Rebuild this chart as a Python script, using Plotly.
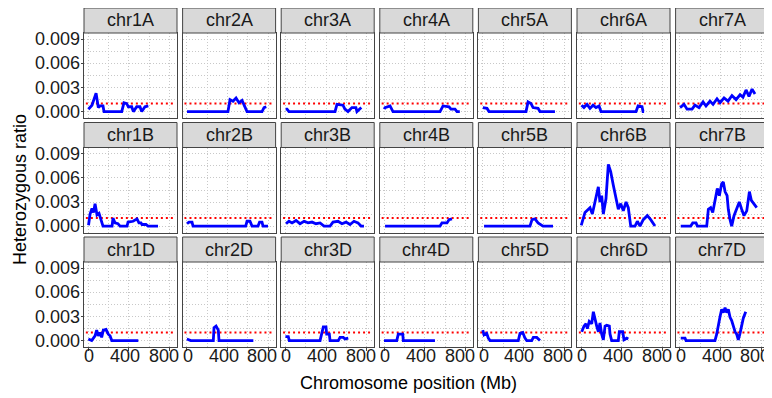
import plotly.graph_objects as go

# ---------------- data (Mb, heterozygous ratio) ----------------
chrom_names = ["chr1A", "chr2A", "chr3A", "chr4A", "chr5A", "chr6A", "chr7A",
               "chr1B", "chr2B", "chr3B", "chr4B", "chr5B", "chr6B", "chr7B",
               "chr1D", "chr2D", "chr3D", "chr4D", "chr5D", "chr6D", "chr7D"]

chr1A_pos = [1, 37, 77, 99, 116, 145, 155, 329, 351, 378, 394, 427, 443, 476, 508, 525, 557, 590]
chr1A_het = [.0003, .0008, .0023, .0005, .0007, .0007, 0, 0, .0011, .0010, .0006, .0006, 0, .0006, .0006, 0, .0006, .0007]
chr2A_pos = [2, 404, 424, 453, 483, 512, 542, 571, 591, 738, 758, 780]
chr2A_het = [0, 0, .0015, .0013, .0017, .0011, .0014, .0005, 0, 0, .0005, .0006]
chr3A_pos = [2, 16, 35, 487, 506, 565, 584, 614, 653, 692, 702, 731, 745]
chr3A_het = [.0003, .0003, 0, 0, .0009, .0008, .0003, 0, .0005, .0005, 0, .0004, .0005]
chr4A_pos = [2, 10, 59, 88, 550, 579, 638, 657, 697, 716, 744]
chr4A_het = [.0003, .0005, .0007, 0, 0, .0007, .0006, .0003, .0003, 0, 0]
chr5A_pos = [2, 43, 63, 426, 446, 475, 495, 544, 563, 710]
chr5A_het = [.0005, .0004, 0, 0, .0012, .0010, .0005, .0004, 0, 0]
chr6A_pos = [3, 27, 57, 86, 116, 145, 175, 194, 538, 558, 597, 607, 617]
chr6A_het = [.0008, .0005, .0009, .0004, .0008, .0005, .0007, 0, 0, .0007, .0006, 0, 0]
chr7A_pos = [2, 41, 71, 120, 149, 188, 228, 257, 296, 326, 365, 395, 434, 473, 512, 552, 591, 620, 650, 679, 709, 738]
chr7A_het = [.0005, .0009, .0003, .0003, .0008, .0005, .0012, .0007, .0013, .0009, .0016, .0011, .0017, .0013,
             .0020, .0015, .0021, .0018, .0027, .0019, .0028, .0022]

chr1B_pos = [3, 18, 37, 52, 67, 86, 106, 126, 145, 234, 243, 263, 292, 312, 381, 391, 440, 479, 498, 518, 528, 567, 587, 685]
chr1B_het = [.0001, .0015, .0022, .0017, .0028, .0014, .0016, .0008, 0, 0, .0010, .0004, .0003, 0, 0, .0005, .0006,
             .0009, .0004, .0004, .0002, .0002, 0, 0]
chr2B_pos = [2, 22, 51, 61, 578, 591, 620, 640, 699, 714, 738, 748, 797]
chr2B_het = [.0003, .0005, .0005, 0, 0, .0006, .0006, 0, 0, .0005, .0005, 0, 0]
chr3B_pos = [6, 35, 65, 104, 143, 183, 222, 261, 300, 340, 379, 438, 467, 516, 555, 595, 634, 673, 712, 742, 771]
chr3B_het = [.0003, .0006, .0004, .0007, .0003, .0006, .0004, .0005, .0003, .0004, 0, 0, .0005, .0006, .0003,
             .0005, .0002, .0006, .0004, 0, 0]
chr4B_pos = [10, 550, 569, 618, 638, 667]
chr4B_het = [0, 0, .0004, .0004, .0008, .0009]
chr5B_pos = [14, 465, 485, 514, 544, 573, 593, 691]
chr5B_het = [0, 0, .0008, .0009, .0004, .0002, 0, 0]
chr6B_pos = [0, 37, 86, 109, 135, 168, 184, 201, 217, 243, 266, 289, 315, 342, 364, 388, 413, 440, 462, 486,
             528, 551, 577, 609, 649, 682, 724]
chr6B_het = [.0001, .0017, .0023, .0015, .0030, .0049, .0030, .0038, .0015, .0034, .0077, .0068, .0051, .0034,
             .0021, .0028, .0019, .0030, .0023, 0, 0, .0006, 0, .0008, .0013, .0008, 0]
chr7B_pos = [9, 107, 127, 159, 172, 264, 280, 303, 323, 345, 368, 388, 411, 427, 444, 464, 476, 493, 509, 532,
             558, 584, 607, 630, 657, 683, 702, 728, 755]
chr7B_het = [0, 0, .0004, .0004, 0, 0, .0021, .0023, .0017, .0034, .0047, .0038, .0053, .0055, .0043, .0038,
             .0021, .0008, 0, .0013, .0021, .0030, .0021, .0013, .0019, .0043, .0032, .0028, .0023]

chr1D_pos = [1, 34, 67, 83, 99, 116, 132, 148, 175, 197, 214, 231, 492]
chr1D_het = [.0002, 0, .0006, .0013, .0006, .0010, .0004, .0013, .0014, .0008, .0006, 0, 0]
chr2D_pos = [0, 38, 260, 267, 287, 309, 316, 653]
chr2D_het = [.0002, 0, 0, .0016, .0018, .0013, 0, 0]
chr3D_pos = [0, 28, 38, 340, 355, 372, 398, 405, 431, 438, 519, 536, 568, 585, 617]
chr3D_het = [.0005, .0005, 0, 0, .0008, .0017, .0017, .0008, .0008, 0, 0, .0004, .0004, .0002, .0003]
chr4D_pos = [0, 125, 140, 184, 189, 500]
chr4D_het = [0, 0, .0008, .0008, 0, 0]
chr5D_pos = [1, 14, 40, 56, 73, 350, 367, 394, 416, 433, 482, 498, 531, 563]
chr5D_het = [.0013, .0007, .0009, .0003, 0, 0, .0009, .0010, .0003, 0, 0, .0004, .0004, 0]
chr6D_pos = [5, 27, 47, 60, 79, 103, 119, 135, 152, 168, 184, 201, 217, 234, 250, 276, 283, 299, 364, 374,
             407, 420, 447, 462]
chr6D_het = [.0011, .0018, .0021, .0015, .0024, .0021, .0036, .0026, .0018, .0011, .0022, .0008, .0001, .0018,
             .0019, .0018, .0008, 0, 0, .0011, .0011, .0001, .0003, .0002]
chr7D_pos = [9, 51, 61, 345, 362, 378, 395, 411, 427, 444, 460, 476, 493, 509, 525, 542, 558, 574, 591, 607, 623, 647]
chr7D_het = [.0003, .0003, 0, 0, .0008, .0020, .0030, .0039, .0035, .0041, .0035, .0039, .0029, .0025, .0018,
             .0011, .0008, .0001, .0009, .0021, .0028, .0036]

positions = [chr1A_pos, chr2A_pos, chr3A_pos, chr4A_pos, chr5A_pos, chr6A_pos, chr7A_pos,
             chr1B_pos, chr2B_pos, chr3B_pos, chr4B_pos, chr5B_pos, chr6B_pos, chr7B_pos,
             chr1D_pos, chr2D_pos, chr3D_pos, chr4D_pos, chr5D_pos, chr6D_pos, chr7D_pos]
ratios = [chr1A_het, chr2A_het, chr3A_het, chr4A_het, chr5A_het, chr6A_het, chr7A_het,
          chr1B_het, chr2B_het, chr3B_het, chr4B_het, chr5B_het, chr6B_het, chr7B_het,
          chr1D_het, chr2D_het, chr3D_het, chr4D_het, chr5D_het, chr6D_het, chr7D_het]

threshold = 0.001
x_ticks = [0, 400, 800]
x_tick_labels = ["0", "400", "800"]
x_minor = [200, 600]
y_ticks = [0, 0.003, 0.006, 0.009]
y_tick_labels = ["0.000", "0.003", "0.006", "0.009"]
y_minor = [0.0015, 0.0045, 0.0075]
x_title = "Chromosome position (Mb)"
y_title = "Heterozygous ratio"

# ---------------- layout geometry (pixels of the 772x398 page) ----------------
PAGE_W, PAGE_H = 772, 398
OFF = 8                      # default body margin of the html page
W, H = PAGE_W - OFF, PAGE_H - OFF
NCOL, NROW = 7, 3
col_left0, col_pitch, col_w = 84.0, 98.6, 93.0
row_top0, row_pitch, strip_h, plot_h = 8.0, 114.5, 25.0, 85.0
x_range = [-41.5, 871.5]
y_range = [-0.0008, 0.0098]
x_label_shift = [1, -4, -6]   # small visual nudge of the x tick labels, as in the reference


def fx(px):
    return (px - OFF) / W


def fy(py):
    return 1 - (py - OFF) / H


FONT = "Liberation Sans, Arial, sans-serif"
GRID = "#C8C8C8"
BORDER = "#444444"
TXT = "#1a1a1a"
FS = 18

fig = go.Figure()
shapes = []
annotations = []

for i, name in enumerate(chrom_names):
    r, c = divmod(i, NCOL)
    x0 = col_left0 + c * col_pitch
    x1 = x0 + col_w
    st = row_top0 + r * row_pitch
    pt = st + strip_h
    pb = pt + plot_h
    k = "" if i == 0 else str(i + 1)
    fig.add_trace(go.Scatter(x=positions[i], y=ratios[i], mode="lines",
                             line=dict(color="#0000FF", width=2.8),
                             xaxis="x" + k, yaxis="y" + k, showlegend=False,
                             hoverinfo="skip"))
    fig.layout["xaxis" + k] = dict(
        domain=[fx(x0), fx(x1)], anchor="y" + k, range=x_range,
        tickmode="array", tickvals=x_ticks, showticklabels=False,
        ticks="outside" if r == NROW - 1 else "", ticklen=3, tickcolor=BORDER,
        showgrid=True, gridcolor=GRID, griddash="1px,2px", gridwidth=1,
        minor=dict(tickvals=x_minor, showgrid=True, gridcolor=GRID, griddash="1px,2px",
                   gridwidth=1, ticks=""),
        showline=True, mirror=True, linecolor=BORDER, linewidth=1,
        zeroline=False, fixedrange=True)
    fig.layout["yaxis" + k] = dict(
        domain=[fy(pb), fy(pt)], anchor="x" + k, range=y_range,
        tickmode="array", tickvals=y_ticks, showticklabels=False,
        ticks="outside" if c == 0 else "", ticklen=2, tickcolor=BORDER,
        showgrid=True, gridcolor=GRID, griddash="1px,2px", gridwidth=1,
        minor=dict(tickvals=y_minor, showgrid=True, gridcolor=GRID, griddash="1px,2px",
                   gridwidth=1, ticks=""),
        showline=True, mirror=True, linecolor=BORDER, linewidth=1,
        zeroline=False, fixedrange=True)
    # threshold line
    shapes.append(dict(type="line", xref=("x" + k) + " domain", yref="y" + k,
                       x0=0.02, x1=0.98, y0=threshold, y1=threshold,
                       line=dict(color="#FF0000", width=2, dash="2px,3px"), layer="below"))
    # strip
    shapes.append(dict(type="rect", xref="paper", yref="paper",
                       x0=fx(x0), x1=fx(x1), y0=fy(pt), y1=fy(st),
                       fillcolor="#D9D9D9", line=dict(color=BORDER, width=1)))
    annotations.append(dict(text=name, xref="paper", yref="paper",
                            x=fx((x0 + x1) / 2), y=fy(st + strip_h / 2),
                            xanchor="center", yanchor="middle", showarrow=False,
                            font=dict(size=FS, color=TXT, family=FONT)))
    # y tick labels (first column)
    if c == 0:
        for v, t in zip(y_ticks, y_tick_labels):
            annotations.append(dict(text=t, xref="paper", yref="y" + k, x=fx(x0 - 2.5), y=v,
                                    xanchor="right", yanchor="middle", showarrow=False,
                                    font=dict(size=FS, color=TXT, family=FONT)))
    # x tick labels (bottom row)
    if r == NROW - 1:
        for v, t, sh in zip(x_ticks, x_tick_labels, x_label_shift):
            annotations.append(dict(text=t, xref="x" + k, yref="paper", x=v, y=fy(pb + 9),
                                    xanchor="center", yanchor="middle", showarrow=False,
                                    xshift=sh, borderpad=0,
                                    font=dict(size=FS, color=TXT, family=FONT)))

annotations.append(dict(text=x_title, xref="paper", yref="paper", x=fx(408), y=fy(383),
                        xanchor="center", yanchor="middle", showarrow=False,
                        font=dict(size=FS, color="#000000", family=FONT)))
annotations.append(dict(text=y_title, xref="paper", yref="paper", x=fx(20), y=fy(190),
                        xanchor="center", yanchor="middle", showarrow=False, textangle=-90,
                        font=dict(size=FS, color="#000000", family=FONT)))

fig.update_layout(width=W, height=H, margin=dict(l=0, r=0, t=0, b=0),
                  paper_bgcolor="white", plot_bgcolor="white",
                  shapes=shapes, annotations=annotations,
                  font=dict(family=FONT))

fig.write_html("out.html")
